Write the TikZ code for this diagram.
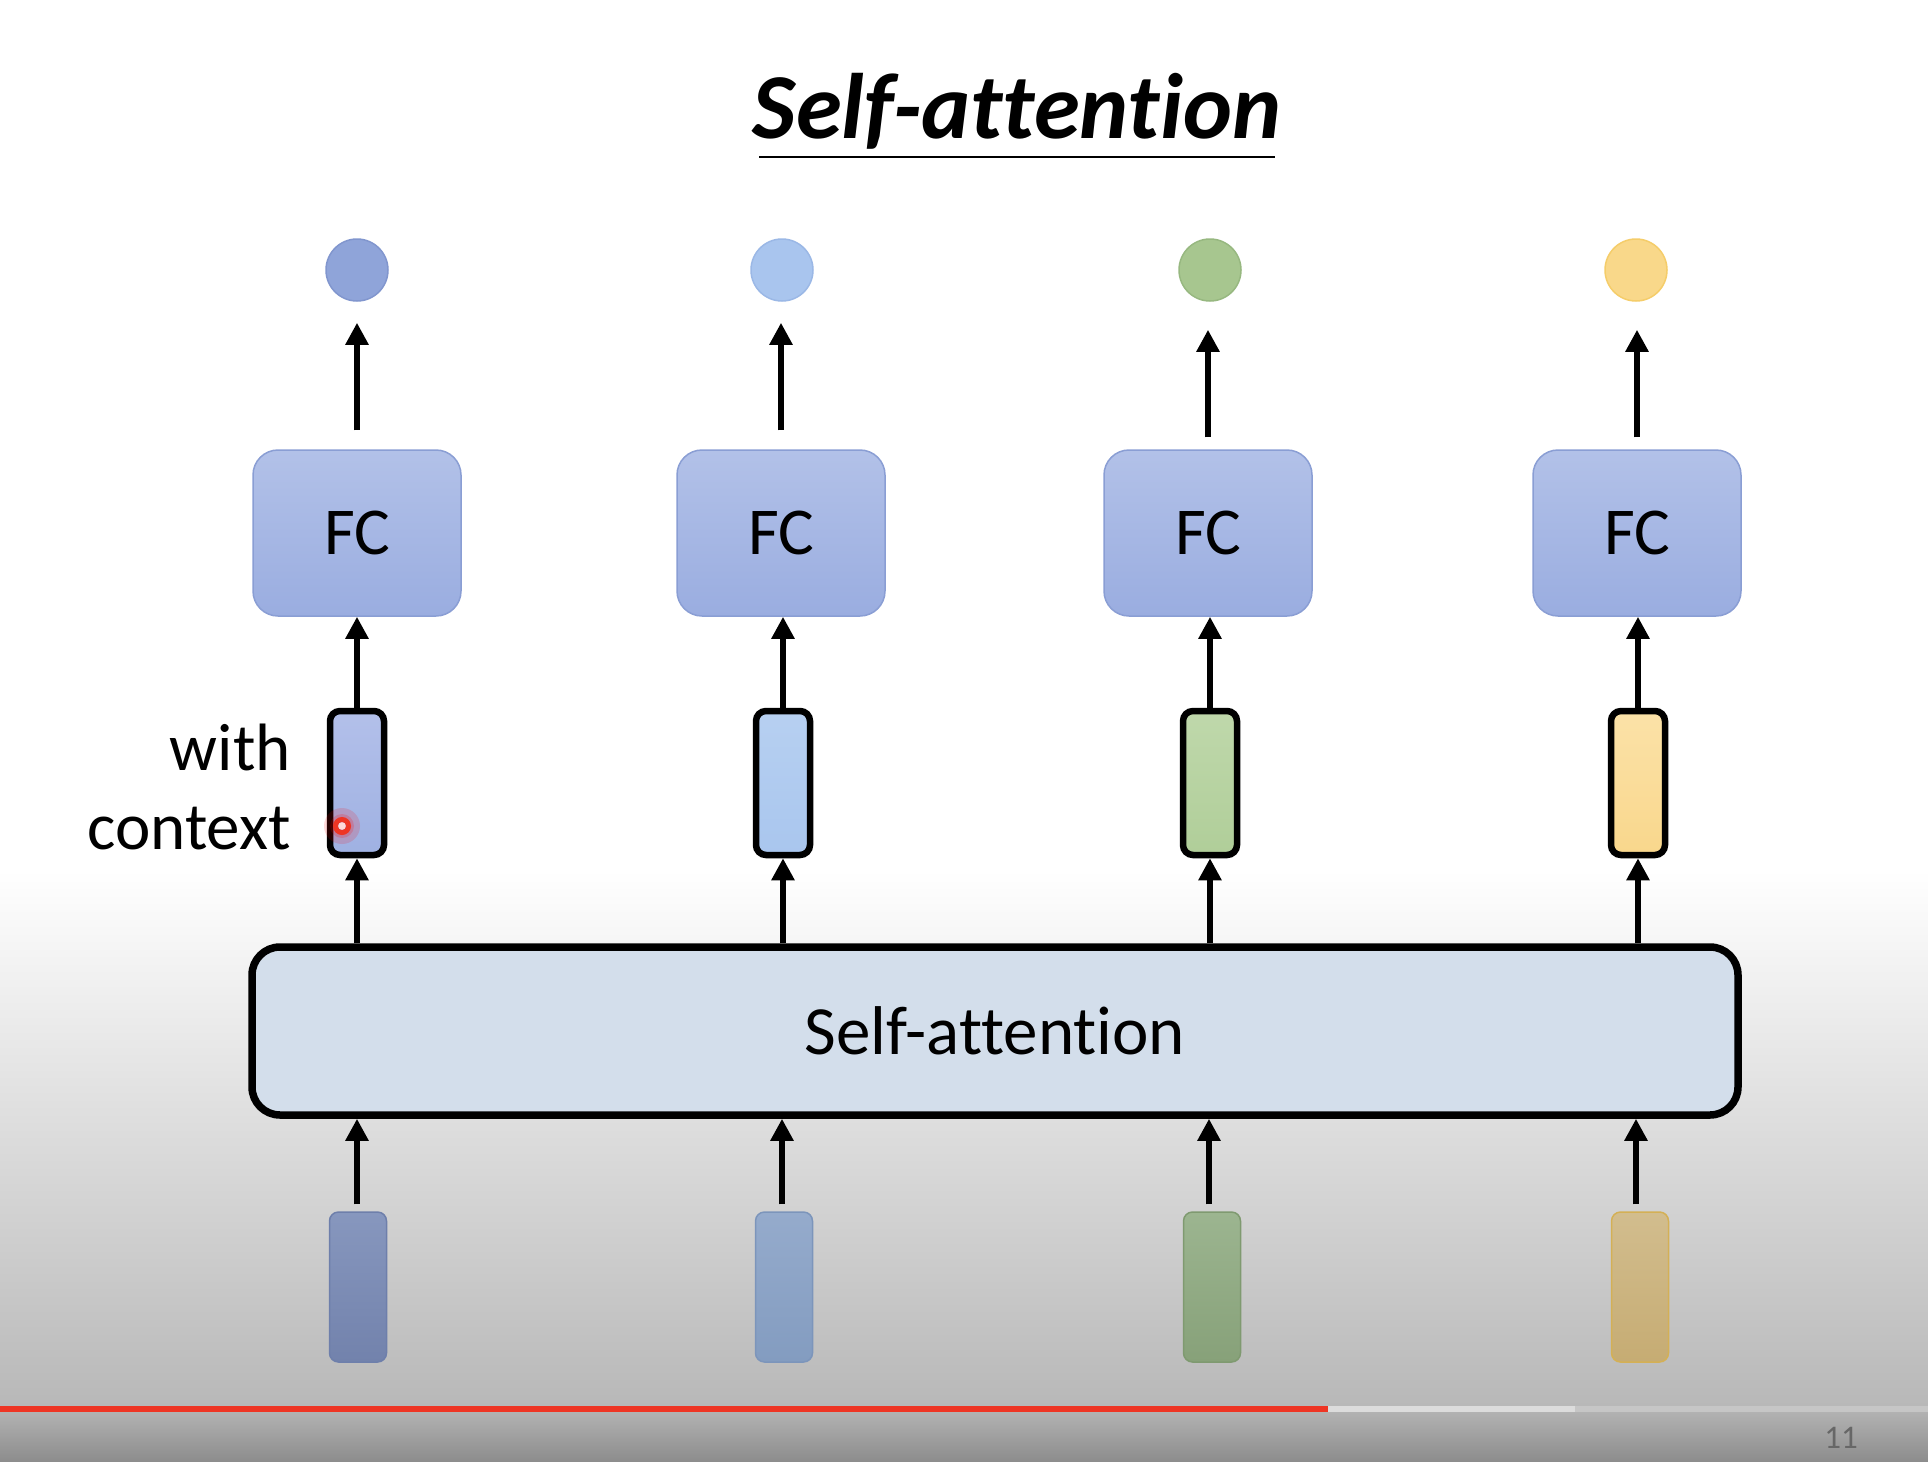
\documentclass[tikz,border=0pt]{standalone}
\usepackage{fontspec}
\setmainfont{Carlito}[Ligatures=NoCommon]
\usetikzlibrary{arrows.meta,calc}

\definecolor{fcTop}{HTML}{B2C1E8}
\definecolor{fcBot}{HTML}{9AADE0}
\definecolor{fcLine}{HTML}{8A9ED4}
\definecolor{saFill}{HTML}{D3DEEB}
\definecolor{bgLow}{HTML}{B8B8B8}
\definecolor{bandTop}{HTML}{B2B2B2}
\definecolor{bandBot}{HTML}{8C8C8C}
\definecolor{barRed}{HTML}{EE3524}
\definecolor{barLight}{HTML}{DCDCDC}
\definecolor{barGray}{HTML}{C6C6C6}
\definecolor{pageNum}{HTML}{676767}
% outputs
\definecolor{oA}{HTML}{8FA4D9}\definecolor{oAl}{HTML}{8196CE}
\definecolor{oB}{HTML}{A9C5EE}\definecolor{oBl}{HTML}{9BB8E6}
\definecolor{oC}{HTML}{A7C68F}\definecolor{oCl}{HTML}{97B880}
\definecolor{oD}{HTML}{F9D88A}\definecolor{oDl}{HTML}{F5CD6A}
% context vectors
\definecolor{cAt}{HTML}{B3C0EA}\definecolor{cAb}{HTML}{9FB1E2}
\definecolor{cBt}{HTML}{B7D0F1}\definecolor{cBb}{HTML}{A9C6EE}
\definecolor{cCt}{HTML}{BFD8AB}\definecolor{cCb}{HTML}{B0CE99}
\definecolor{cDt}{HTML}{FBE2A8}\definecolor{cDb}{HTML}{F9D78C}
% inputs
\definecolor{xAt}{HTML}{8797BE}\definecolor{xAb}{HTML}{7282AC}\definecolor{xAl}{HTML}{6E7FAB}
\definecolor{xBt}{HTML}{95ABCC}\definecolor{xBb}{HTML}{839CC0}\definecolor{xBl}{HTML}{7C95BB}
\definecolor{xCt}{HTML}{9CB590}\definecolor{xCb}{HTML}{87A179}\definecolor{xCl}{HTML}{7F9A70}
\definecolor{xDt}{HTML}{D2BD8E}\definecolor{xDb}{HTML}{C6AC73}\definecolor{xDl}{HTML}{D4B055}

\begin{document}
\begin{tikzpicture}[x=1pt,y=-1pt,
  fcbox/.style={rounded corners=25pt, minimum width=208pt, minimum height=166pt,
    draw=fcLine, line width=1.5pt, top color=fcTop, bottom color=fcBot,
    inner sep=0pt, font=\fontsize{67}{80}\selectfont},
  outdot/.style={circle, minimum size=62pt, inner sep=0pt, line width=1.5pt},
  ctxvec/.style={rounded corners=10pt, minimum width=54pt, minimum height=144pt,
    draw=black, line width=6.5pt, inner sep=0pt},
  invec/.style={rounded corners=9pt, minimum width=57pt, minimum height=150pt,
    line width=1.5pt, inner sep=0pt},
  sabox/.style={rounded corners=28pt, minimum width=1486pt, minimum height=168pt,
    draw=black, line width=7.5pt, fill=saFill, inner sep=0pt,
    font=\fontsize{69}{82}\selectfont},
  arr/.style={line width=6pt, -{Triangle[width=22pt,length=22pt]}},
  lbl/.style={inner sep=0pt, font=\fontsize{67}{80}\selectfont}
]
\useasboundingbox (0,0) rectangle (1928,1462);
% background
\fill[white] (0,0) rectangle (1928,871);
\shade[top color=white, bottom color=bgLow] (0,870) rectangle (1928,1406);
\fill[barRed] (0,1406) rectangle (1328,1412);
\fill[barLight] (1328,1406) rectangle (1575,1412);
\fill[barGray] (1575,1406) rectangle (1928,1412);
\shade[top color=bandTop, bottom color=bandBot] (0,1412) rectangle (1928,1462);

% title
\node[inner sep=0pt, anchor=base, font=\fontsize{93}{110}\selectfont\bfseries\itshape]
  (title) at (1017,138) {Self-attention};
\draw[line width=2.5pt] ($(title.base)+(-258,19)$) -- ($(title.base)+(258,19)$);

% output circles
\node[outdot, fill=oA, draw=oAl] (o1) at (357,270) {};
\node[outdot, fill=oB, draw=oBl] (o2) at (782,270) {};
\node[outdot, fill=oC, draw=oCl] (o3) at (1210,270) {};
\node[outdot, fill=oD, draw=oDl] (o4) at (1636,270) {};

% FC boxes
\node[fcbox] (fc1) at (357,533) {FC};
\node[fcbox] (fc2) at (781,533) {FC};
\node[fcbox] (fc3) at (1208,533) {FC};
\node[fcbox] (fc4) at (1637,533) {FC};

% context vectors
\node[ctxvec, top color=cAt, bottom color=cAb] (c1) at (357,783) {};
\node[ctxvec, top color=cBt, bottom color=cBb] (c2) at (783,783) {};
\node[ctxvec, top color=cCt, bottom color=cCb] (c3) at (1210,783) {};
\node[ctxvec, top color=cDt, bottom color=cDb] (c4) at (1638,783) {};

% self-attention box
\node[sabox] (sa) at (995,1031) {Self-attention};

% input vectors
\node[invec, top color=xAt, bottom color=xAb, draw=xAl] (x1) at (358,1287) {};
\node[invec, top color=xBt, bottom color=xBb, draw=xBl] (x2) at (784,1287) {};
\node[invec, top color=xCt, bottom color=xCb, draw=xCl] (x3) at (1212,1287) {};
\node[invec, top color=xDt, bottom color=xDb, draw=xDl] (x4) at (1640,1287) {};

% labels
\node[lbl, anchor=base east] (w1) at (291,770) {with};
\node[lbl, anchor=base east] (w2) at (291,849) {context};
\node[inner sep=0pt, anchor=base east, text=pageNum, font=\fontsize{33}{40}\selectfont]
  (pg) at (1858,1448) {11};

% arrows: FC -> outputs
\draw[arr] ([yshift=19pt]fc1.north) -- ([yshift=-21pt]o1.south -| fc1.north);
\draw[arr] ([yshift=19pt]fc2.north) -- ([yshift=-21pt]o2.south -| fc2.north);
\draw[arr] ([yshift=12pt]fc3.north) -- ([yshift=-28pt]o3.south -| fc3.north);
\draw[arr] ([yshift=12pt]fc4.north) -- ([yshift=-28pt]o4.south -| fc4.north);
% context -> FC
\draw[arr] (c1.north) -- (c1.north |- fc1.south);
\draw[arr] (c2.north) -- (c2.north |- fc2.south);
\draw[arr] (c3.north) -- (c3.north |- fc3.south);
\draw[arr] (c4.north) -- (c4.north |- fc4.south);
% SA -> context
\draw[arr] (c1.south |- sa.north) -- (c1.south);
\draw[arr] (c2.south |- sa.north) -- (c2.south);
\draw[arr] (c3.south |- sa.north) -- (c3.south);
\draw[arr] (c4.south |- sa.north) -- (c4.south);
% inputs -> SA
\draw[arr] ([xshift=-1pt,yshift=7pt]x1.north) -- ([xshift=-1pt]x1.north |- sa.south);
\draw[arr] ([xshift=-2pt,yshift=7pt]x2.north) -- ([xshift=-2pt]x2.north |- sa.south);
\draw[arr] ([xshift=-3pt,yshift=7pt]x3.north) -- ([xshift=-3pt]x3.north |- sa.south);
\draw[arr] ([xshift=-4pt,yshift=7pt]x4.north) -- ([xshift=-4pt]x4.north |- sa.south);

% pointer dot
\fill[red, opacity=0.15] (342,826) circle (18);
\fill[red, opacity=0.18] (342,826) circle (12);
\draw[barRed, line width=5pt] (342,826) circle (6.5);
\fill[white!85!red] (342,826) circle (3.8);
\end{tikzpicture}
\end{document}
